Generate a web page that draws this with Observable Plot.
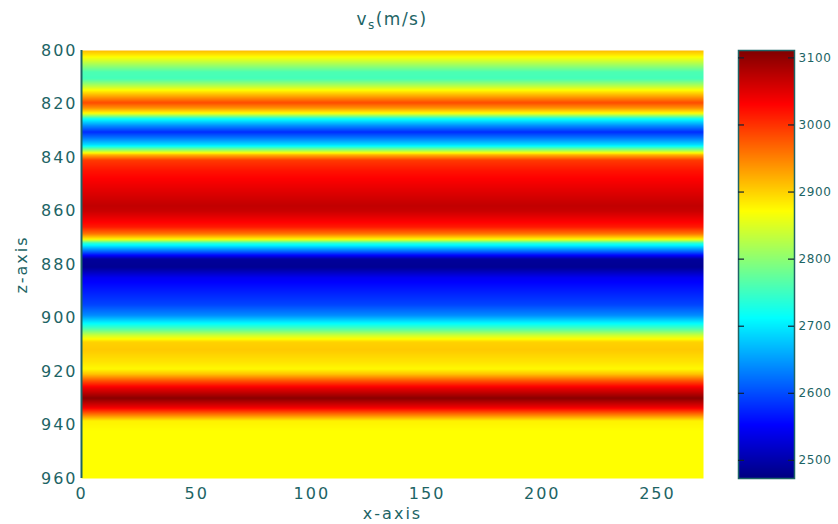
<!DOCTYPE html>
<html>
<head>
<meta charset="utf-8">
<script src="https://cdn.jsdelivr.net/npm/d3@7"></script>
<script src="https://cdn.jsdelivr.net/npm/@observablehq/plot@0.6"></script>
<style>
  html, body { margin: 0; padding: 0; background: #fff; }
  #wrap { position: relative; width: 838px; height: 524px; overflow: hidden; font-family: "DejaVu Sans", sans-serif; }
  #main { position: absolute; left: 0; top: 0; }
  #cbar { position: absolute; left: 720px; top: 0; }
  #title { position: absolute; left: 392px; top: 9px; transform: translateX(-50%); font-size: 17px; color: #1d6465; letter-spacing: 1.5px; white-space: nowrap; }
  #title sub { font-size: 12px; }
  #main svg text { letter-spacing: 2px; }
  #cbar svg text { letter-spacing: 0.6px; }
</style>
</head>
<body>
<div id="wrap">
  <div id="title">v<sub>s</sub>(m/s)</div>
  <div id="main"></div>
  <div id="cbar"></div>
</div>
<script>
// Depth samples (z-axis) and S-wave velocity
const zDepth = [800, 802, 805, 808, 810.5, 813, 815.5, 818, 819.5, 821.5, 823.5, 825.5, 828, 830.5, 833, 835.5, 837.5, 839, 841, 845, 850, 854, 858, 860, 862.5, 866, 868.5, 870.5, 872, 874, 876, 878, 881, 885, 889, 895, 899, 902, 904, 906.5, 909, 912, 916, 919, 921, 923.5, 926, 930, 933.5, 936, 938.5, 942, 960];
const vs     = [2915, 2880, 2820, 2760, 2755, 2820, 2890, 2950, 2985, 2940, 2870, 2720, 2645, 2580, 2635, 2700, 2820, 2920, 2995, 3020, 3040, 3055, 3070, 3065, 3045, 3015, 2960, 2880, 2740, 2660, 2580, 2490, 2485, 2545, 2565, 2595, 2640, 2710, 2760, 2840, 2900, 2905, 2890, 2875, 2910, 2980, 3040, 3105, 3040, 2960, 2880, 2872, 2872];
const xEdges = [0, 270];
const zRange = [800, 960];
const vsRange = [2473, 3111];
const xTicks = [0, 50, 100, 150, 200, 250];
const zTicks = [800, 820, 840, 860, 880, 900, 920, 940, 960];
const cbTicks = [2500, 2600, 2700, 2800, 2900, 3000, 3100];

const ink = "#1d6465";

// MATLAB "jet" colormap
function jet(t) {
  const c = v => Math.max(0, Math.min(1, v));
  return d3.rgb(255 * c(1.5 - Math.abs(4 * t - 3)), 255 * c(1.5 - Math.abs(4 * t - 2)), 255 * c(1.5 - Math.abs(4 * t - 1))).toString();
}

const points = [];
for (const x of xEdges) zDepth.forEach((z, i) => points.push({x, z, v: vs[i]}));

const colorScale = {type: "linear", domain: vsRange, interpolate: jet};

const main = Plot.plot({
  width: 720, height: 524,
  marginLeft: 81, marginRight: 17, marginTop: 50, marginBottom: 46,
  style: {fontFamily: "DejaVu Sans, sans-serif", fontSize: "16px", color: ink, background: "transparent"},
  x: {domain: xEdges, ticks: xTicks},
  y: {domain: zRange, reverse: true, ticks: zTicks},
  color: colorScale,
  marks: [
    Plot.raster(points, {x: "x", y: "z", fill: "v", interpolate: "barycentric", x1: xEdges[0], x2: xEdges[1], y1: zRange[0], y2: zRange[1]}),
    Plot.ruleX([xEdges[0]], {stroke: ink, strokeWidth: 2}),
    Plot.axisX({ticks: xTicks, tickSize: 0, tickPadding: 9, tickFormat: d => String(d), label: "x-axis", labelAnchor: "center", labelArrow: "none", labelOffset: 40}),
    Plot.axisY({ticks: zTicks, tickSize: 0, tickPadding: 4, tickFormat: d => String(d), label: "z-axis", labelAnchor: "center", labelArrow: "none", labelOffset: 66})
  ]
});
document.getElementById("main").appendChild(main);

const cbar = Plot.plot({
  width: 118, height: 524,
  marginLeft: 18, marginRight: 44, marginTop: 50, marginBottom: 46,
  style: {fontFamily: "DejaVu Sans, sans-serif", fontSize: "12px", color: ink, background: "transparent"},
  x: {domain: [0, 1], axis: null},
  y: {domain: vsRange, ticks: cbTicks, axis: null},
  color: colorScale,
  marks: [
    Plot.raster({fill: (x, y) => y, x1: 0, x2: 1, y1: vsRange[0], y2: vsRange[1]}),
    Plot.frame({stroke: ink, strokeWidth: 1.5}),
    Plot.tickY(cbTicks, {y: d => d, stroke: "#123", strokeWidth: 1.2, insetRight: 50}),
    Plot.tickY(cbTicks, {y: d => d, stroke: "#123", strokeWidth: 1.2, insetLeft: 50}),
    Plot.axisY({ticks: cbTicks, anchor: "right", tickSize: 0, tickPadding: 4, tickFormat: d => String(d), label: null})
  ]
});
document.getElementById("cbar").appendChild(cbar);
</script>
</body>
</html>
